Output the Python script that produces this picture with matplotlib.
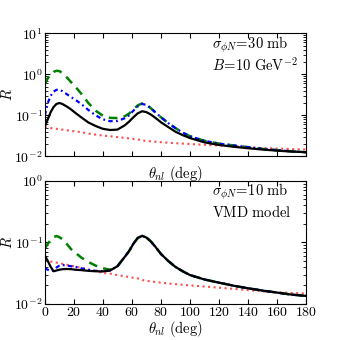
import numpy as np
import matplotlib
matplotlib.use("Agg")
import matplotlib.pyplot as plt
from matplotlib.ticker import LogLocator, MultipleLocator, NullFormatter

plt.rcParams["font.family"] = "serif"
plt.rcParams["font.serif"] = ["cmr10", "DejaVu Serif"]
plt.rcParams["mathtext.fontset"] = "cm"
plt.rcParams["axes.formatter.use_mathtext"] = True
plt.rcParams["font.size"] = 10.5

# angle grid (deg)
theta = [0, 2, 4, 6, 8, 10, 12, 15, 18, 21, 25, 30, 35, 40, 45, 50, 55, 58, 61,
         64, 67, 70, 73, 76, 80, 85, 90, 95, 100, 110, 120, 130, 140, 150, 160,
         170, 180]

# top panel: sigma = 30 mb, B = 10 GeV^-2
green_30 = [0.58, 0.8, 1.0, 1.15, 1.22, 1.2, 1.08, 0.85, 0.65, 0.5, 0.34, 0.2,
            0.13, 0.098, 0.087, 0.086, 0.095, 0.11, 0.14, 0.175, 0.195, 0.18,
            0.15, 0.12, 0.09, 0.065, 0.049, 0.038, 0.031, 0.024, 0.0205,
            0.0185, 0.0168, 0.0152, 0.0142, 0.0133, 0.0126]
blue_30 = [0.1, 0.2, 0.3, 0.38, 0.42, 0.42, 0.39, 0.33, 0.28, 0.24, 0.19, 0.135,
           0.1, 0.08, 0.072, 0.073, 0.085, 0.1, 0.13, 0.165, 0.19, 0.18, 0.15,
           0.12, 0.09, 0.065, 0.049, 0.038, 0.031, 0.024, 0.0205, 0.0185,
           0.0168, 0.0152, 0.0142, 0.0133, 0.0126]
black_30 = [0.054, 0.08, 0.12, 0.16, 0.19, 0.2, 0.19, 0.165, 0.14, 0.115, 0.09,
            0.067, 0.055, 0.047, 0.044, 0.045, 0.057, 0.07, 0.09, 0.112, 0.126,
            0.12, 0.105, 0.088, 0.068, 0.052, 0.04, 0.033, 0.028, 0.022, 0.019,
            0.0172, 0.0158, 0.0147, 0.0138, 0.0131, 0.0127]

# red dotted reference (same in both panels)
red = [0.051, 0.05, 0.049, 0.048, 0.047, 0.046, 0.045, 0.0435, 0.042, 0.0405,
       0.039, 0.036, 0.034, 0.032, 0.031, 0.0295, 0.0282, 0.0274, 0.0266,
       0.026, 0.0245, 0.0238, 0.0233, 0.0228, 0.0222, 0.0215, 0.021, 0.0205,
       0.02, 0.0192, 0.0184, 0.0176, 0.0168, 0.016, 0.0155, 0.0151, 0.0148]

# bottom panel: sigma = 10 mb, VMD model
black_10 = [0.061, 0.05, 0.04, 0.034, 0.035, 0.036, 0.0367, 0.037, 0.0368,
            0.036, 0.0355, 0.0345, 0.034, 0.0338, 0.035, 0.041, 0.058, 0.072,
            0.095, 0.118, 0.128, 0.12, 0.104, 0.086, 0.065, 0.05, 0.04, 0.034,
            0.0295, 0.025, 0.0222, 0.0198, 0.018, 0.0165, 0.0153, 0.0142, 0.0135]
green_10 = [0.08, 0.095, 0.11, 0.122, 0.127, 0.122, 0.113, 0.095, 0.078, 0.068,
            0.057, 0.048, 0.042, 0.038, 0.036, 0.041, 0.058, 0.072, 0.095,
            0.118, 0.128, 0.12, 0.104, 0.086, 0.065, 0.05, 0.04, 0.034, 0.0295,
            0.025, 0.0222, 0.0198, 0.018, 0.0165, 0.0153, 0.0142, 0.0135]
blue_10 = [0.038, 0.036, 0.034, 0.035, 0.039, 0.042, 0.043, 0.042, 0.041, 0.04,
           0.038, 0.036, 0.0345, 0.034, 0.035, 0.041, 0.058, 0.072, 0.095,
           0.118, 0.128, 0.12, 0.104, 0.086, 0.065, 0.05, 0.04, 0.034, 0.0295,
           0.025, 0.0222, 0.0198, 0.018, 0.0165, 0.0153, 0.0142, 0.0135]

fig = plt.figure(figsize=(3.4, 3.4), dpi=100)
ax1 = fig.add_axes([0.132, 0.540, 0.768, 0.362])
ax2 = fig.add_axes([0.132, 0.106, 0.768, 0.362])


def draw(ax, g, b, k, ylim, lines):
    ax.plot(theta, red, color="#ff4d4d", ls=":", lw=1.5)
    ax.plot(theta, g, color="#008000", ls="--", lw=1.8, dashes=(3.5, 2.5))
    ax.plot(theta, b, color="#0000ff", ls="-.", lw=1.6, dashes=(2, 1.5, 0.8, 1.5))
    ax.plot(theta, k, color="black", lw=1.6)
    ax.set_yscale("log")
    ax.set_xlim(0, 180)
    ax.set_ylim(*ylim)
    ax.xaxis.set_major_locator(MultipleLocator(20))
    ax.yaxis.set_major_locator(LogLocator(base=10, numticks=10))
    ax.yaxis.set_minor_locator(LogLocator(base=10, subs=np.arange(2, 10), numticks=20))
    ax.yaxis.set_minor_formatter(NullFormatter())
    ax.tick_params(which="both", direction="in", top=True, right=True)
    ax.tick_params(which="major", length=3.5, pad=1.5, labelsize=10)
    ax.tick_params(which="minor", length=2)
    ax.set_ylabel(r"$R$")
    ax.yaxis.set_label_coords(-0.115, 0.5)
    ax.set_xlabel(r"$\theta_{nl}\ \mathrm{(deg)}$")
    ax.text(0.64, 0.91, lines[0], transform=ax.transAxes, va="center")
    ax.text(0.64, 0.745, lines[1], transform=ax.transAxes, va="center")


draw(ax1, green_30, blue_30, black_30, (1e-2, 1e1),
     [r"$\sigma_{\phi N}\!=\!30\ \mathrm{mb}$", r"$B\!=\!10\ \mathrm{GeV}^{-2}$"])
ax1.set_xticklabels([])
ax1.xaxis.set_label_coords(0.5, -0.06)
draw(ax2, green_10, blue_10, black_10, (1e-2, 1e0),
     [r"$\sigma_{\phi N}\!=\!10\ \mathrm{mb}$", r"$\mathrm{VMD\ model}$"])
ax2.xaxis.set_label_coords(0.5, -0.125)

fig.savefig("out.png", dpi=100)
